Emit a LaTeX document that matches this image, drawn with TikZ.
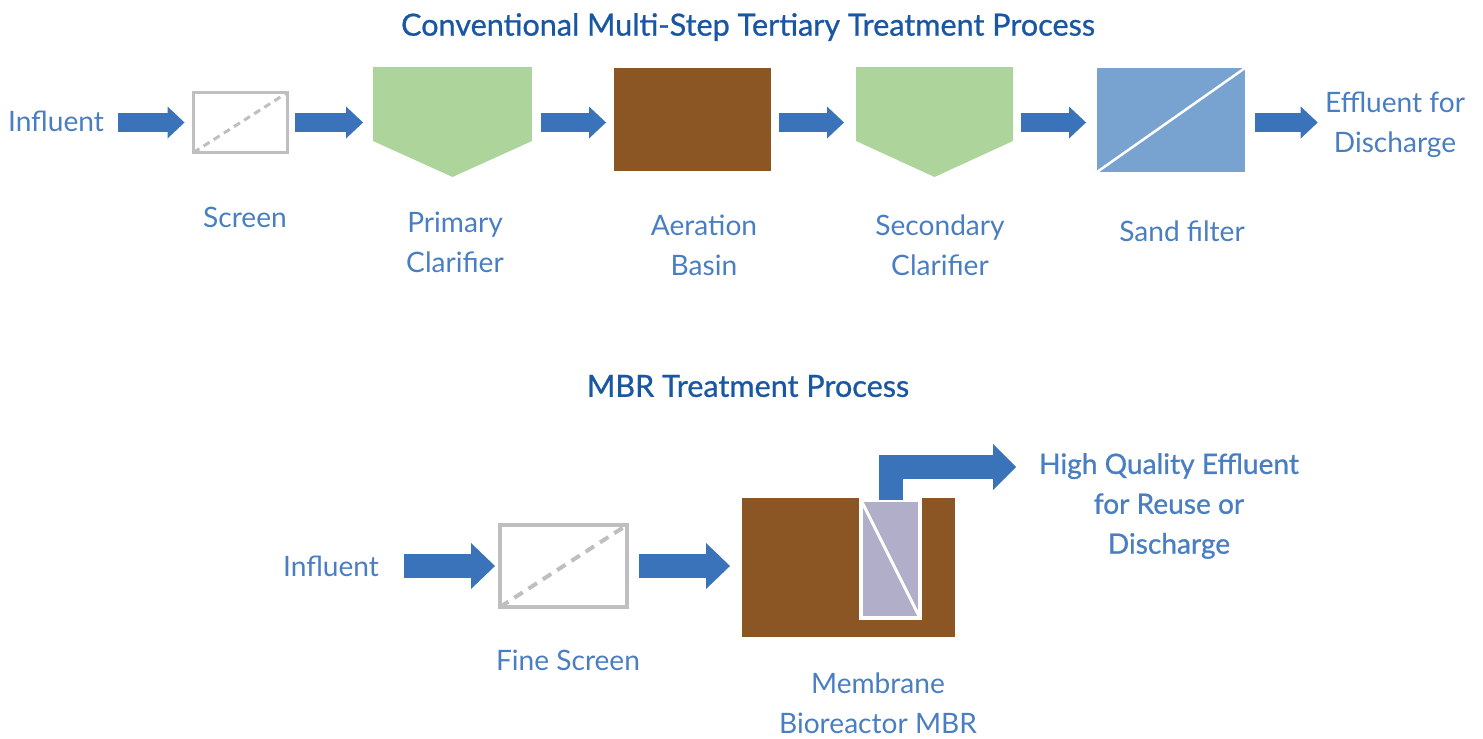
\documentclass[tikz,border=0pt]{standalone}
\usepackage{fontspec}
\setmainfont{Lato}
\newfontfamily\semifont[FakeBold=0.8]{Lato}
\usepackage{xcolor}
\usetikzlibrary{arrows.meta}

\definecolor{titleblue}{HTML}{1A57A3}
\definecolor{labelblue}{HTML}{4A7EC2}
\definecolor{flowblue}{HTML}{3B73BA}
\definecolor{clargreen}{HTML}{ADD59B}
\definecolor{basinbrown}{HTML}{8B5524}
\definecolor{sandblue}{HTML}{78A2D0}
\definecolor{memgray}{HTML}{B0AEC8}
\definecolor{screengray}{HTML}{BFBFBF}

\tikzset{
  label/.style={text=labelblue, align=center, inner sep=0pt, font=\fontsize{16}{22.7}\selectfont},
  title/.style={text=titleblue, inner sep=0pt, font=\semifont\fontsize{17.4}{20}\selectfont},
  unit/.style={inner sep=0pt, outer sep=0pt},
  flow/.style={draw=flowblue, line width=0.38cm, -{Triangle[length=0.34cm, width=0.64cm, line width=0pt]}},
  bigflow/.style={draw=flowblue, line width=0.47cm, -{Triangle[length=0.48cm, width=0.92cm, line width=0pt]}}
}

\begin{document}
\begin{tikzpicture}[x=0.02cm, y=-0.02cm]
\useasboundingbox (0,0) rectangle (1483,738);

% Conventional process
\node[title] (title1) at (748,27) {Conventional Multi-Step Tertiary Treatment Process};

\node[label] (infl1) at (56,121) {Influent};
\node[unit, draw=screengray, line width=0.06cm, minimum width=1.88cm, minimum height=1.2cm] (screen) at (240.5,122.5) {};
\draw[screengray, line width=0.06cm, dash pattern=on 0.14cm off 0.1cm] (screen.south west) -- (screen.north east);
\node[unit, minimum width=3.18cm, minimum height=2.2cm] (prim) at (452.5,122) {};
\fill[clargreen] (prim.north west) -- (prim.north east) -- ([yshift=0.72cm]prim.south east)
  -- (prim.south) -- ([yshift=0.72cm]prim.south west) -- cycle;
\node[unit, fill=basinbrown, minimum width=3.14cm, minimum height=2.06cm] (aer) at (692.5,119.5) {};
\node[unit, minimum width=3.14cm, minimum height=2.2cm] (sec) at (934.5,122) {};
\fill[clargreen] (sec.north west) -- (sec.north east) -- ([yshift=0.72cm]sec.south east)
  -- (sec.south) -- ([yshift=0.72cm]sec.south west) -- cycle;
\node[unit, fill=sandblue, minimum width=2.96cm, minimum height=2.08cm] (sand) at (1171,120) {};
\draw[white, line width=0.05cm] (sand.south west) -- (sand.north east);
\node[label] (eff1) at (1395,125) {Effluent for\\Discharge};

% Labels
\node[label] (screenlbl) at (245,217) {Screen};
\node[label] (primlbl) at (455,242) {Primary\\Clarifier};
\node[label] (aerlbl) at (704,245) {Aeration\\Basin};
\node[label] (seclbl) at (940,245) {Secondary\\Clarifier};
\node[label] (sandlbl) at (1182,231) {Sand filter};

% Flow arrows
\draw[flow] ([xshift=0.28cm]infl1.east |- screen.west) -- ([xshift=-0.18cm]screen.west);
\draw[flow] ([xshift=0.16cm]screen.east) -- ([xshift=-0.2cm]screen.east -| prim.west);
\draw[flow] ([xshift=0.18cm]prim.east |- screen.east) -- ([xshift=-0.16cm]screen.east -| aer.west);
\draw[flow] ([xshift=0.16cm]aer.east |- screen.east) -- ([xshift=-0.24cm]screen.east -| sec.west);
\draw[flow] ([xshift=0.16cm]sec.east |- screen.east) -- ([xshift=-0.22cm]screen.east -| sand.west);
\draw[flow] ([xshift=0.2cm]sand.east |- screen.east) -- ([xshift=-0.14cm]screen.east -| eff1.west);

% MBR process
\node[title] (title2) at (748,386) {MBR Treatment Process};

\node[label] (infl2) at (331,566) {Influent};
\node[unit, draw=screengray, line width=0.08cm, minimum width=2.54cm, minimum height=1.64cm] (fscreen) at (563.5,566) {};
\draw[screengray, line width=0.08cm, dash pattern=on 0.2cm off 0.14cm] (fscreen.south west) -- (fscreen.north east);
\node[unit, fill=basinbrown, minimum width=4.26cm, minimum height=2.78cm] (mbr) at (848.5,567.5) {};
\node[unit, fill=memgray, draw=white, line width=0.08cm, minimum width=1.18cm, minimum height=2.36cm] (mem) at (890.5,559) {};
\draw[white, line width=0.06cm] (mem.north west) -- (mem.south east);
\coordinate (outlet) at (1016,467);
\node[text=labelblue, align=center, inner sep=0pt, font=\semifont\fontsize{16}{22.7}\selectfont] (hq) at (1169,506)
  {High Quality Effluent\\for Reuse or\\Discharge};

\node[label] (fslbl) at (568,660) {Fine Screen};
\node[label] (mbrlbl) at (878,703) {Membrane\\Bioreactor MBR};

\draw[bigflow] ([xshift=0.5cm]infl2.east |- fscreen.west) -- ([xshift=-0.1cm]fscreen.west);
\draw[bigflow] ([xshift=0.24cm]fscreen.east) -- ([xshift=-0.24cm]fscreen.east -| mbr.west);
\draw[draw=flowblue, line width=0.48cm, -{Triangle[length=0.46cm, width=0.92cm, line width=0pt]}]
  (mem.north) |- (outlet);
\end{tikzpicture}
\end{document}
